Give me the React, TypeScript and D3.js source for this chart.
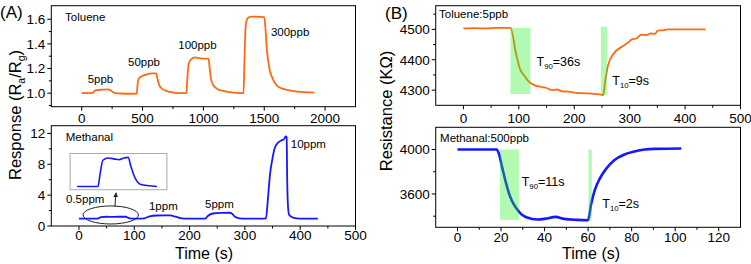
import React from 'react';
import * as d3 from 'd3';

// ---------- DATA ----------
// (A) top: Toluene response vs time (s)
const tolueneTime = [0, 60, 92, 105, 125, 170, 215, 232, 250, 273, 320, 400, 452, 460, 470, 490, 530, 575, 612, 622, 635, 655, 690, 750, 810, 860, 868, 880, 900, 930, 965, 1005, 1042, 1052, 1066, 1085, 1120, 1180, 1250, 1330, 1337, 1348, 1365, 1395, 1450, 1500, 1508, 1522, 1542, 1568, 1605, 1655, 1720, 1800, 1913];
const tolueneResp = [1.0, 1.0, 1.003, 1.02, 1.025, 1.028, 1.03, 1.027, 1.012, 1.0, 0.997, 0.995, 0.997, 1.08, 1.12, 1.135, 1.15, 1.16, 1.16, 1.12, 1.07, 1.04, 1.02, 1.005, 1.0, 1.0, 1.12, 1.24, 1.275, 1.29, 1.285, 1.28, 1.28, 1.2, 1.1, 1.06, 1.03, 1.015, 1.005, 1.0, 1.25, 1.55, 1.61, 1.622, 1.62, 1.618, 1.55, 1.35, 1.2, 1.12, 1.06, 1.035, 1.02, 1.01, 1.005];

// (A) bottom: Methanal response vs time (s)
const methanalTime = [0, 30, 35, 40, 50, 60, 70, 85, 88, 92, 100, 110, 118, 128, 140, 155, 165, 175, 185, 200, 228, 233, 242, 258, 272, 277, 282, 290, 300, 336, 338, 342, 345, 350, 354, 360, 366, 370, 372, 374, 375.5, 376.5, 378, 380, 387, 400, 432];
const methanalResp = [0.95, 0.95, 1.0, 1.15, 1.2, 1.17, 1.2, 1.2, 1.1, 1.0, 0.95, 0.95, 1.0, 1.25, 1.36, 1.38, 1.37, 1.2, 1.0, 0.95, 0.95, 1.3, 1.62, 1.7, 1.72, 1.6, 1.2, 1.0, 0.95, 0.95, 1.0, 3.8, 6.4, 8.8, 10.1, 10.8, 11.1, 11.2, 11.4, 11.6, 11.5, 6, 2.5, 1.45, 1.08, 0.95, 0.95];

// inset: 0.5 ppm close-up
const insetTime = [0, 35, 38, 43, 52, 63, 70, 78, 85, 90, 97, 105, 133];
const insetResp = [0.95, 0.95, 1.05, 1.18, 1.2, 1.19, 1.185, 1.2, 1.205, 1.12, 1.02, 0.97, 0.95];

// (B) top: Toluene 5 ppb resistance (kOhm)
const tolResTime = [0, 20, 40, 60, 85, 95, 103, 109, 118, 130, 142, 150, 160, 168, 178, 190, 200, 214, 225, 238, 248, 252, 256, 261, 271, 286, 296, 304, 312, 321, 330, 339, 345, 351, 360, 369, 400, 437];
const tolResVal = [4503, 4504, 4503, 4505, 4505, 4420, 4365, 4350, 4328, 4315, 4310, 4307, 4300, 4302, 4296, 4295, 4292, 4290, 4289, 4287, 4285, 4283, 4330, 4382, 4420, 4443, 4455, 4467, 4470, 4483, 4481, 4487, 4485, 4496, 4497, 4500, 4500, 4500];

// (B) bottom: Methanal 500 ppb resistance (kOhm)
const metResTime = [0, 10, 18, 19, 20.5, 22, 23.5, 25, 27.3, 29.6, 32, 36.6, 41, 45, 49, 55, 60, 61.4, 63, 65.3, 68.3, 72, 76.7, 81.3, 86, 90.6, 102.8];
const metResVal = [4000, 4000, 4000, 3964, 3842, 3721, 3615, 3539, 3464, 3412, 3388, 3370, 3379, 3394, 3376, 3367, 3364, 3509, 3630, 3736, 3827, 3903, 3955, 3982, 4000, 4006, 4009];

// response-time windows
const tolWinStart = [85, 248];
const tolWinEnd = [121, 259];
const tolWinTop = [4505, 4509];
const tolWinBottom = [4287, 4283];
const metWinStart = [19.5, 60.2];
const metWinEnd = [28.2, 61.7];
const metWinTop = [4000, 4000];
const metWinBottom = [3367, 3364];

// ticks
const tlXTicks = [0, 500, 1000, 1500, 2000];
const tlXMinor = [250, 750, 1250, 1750];
const tlYTicks = [1.0, 1.2, 1.4, 1.6];
const tlYMinor = [0.9, 1.1, 1.3, 1.5];
const blXTicks = [0, 100, 200, 300, 400, 500];
const blXMinor = [50, 150, 250, 350, 450];
const blYTicks = [0, 4, 8, 12];
const blYMinor = [2, 6, 10];
const trXTicks = [0, 100, 200, 300, 400, 500];
const trXMinor = [50, 150, 250, 350, 450];
const trYTicks = [4300, 4400, 4500];
const trYMinor = [4350, 4450, 4550];
const brXTicks = [0, 20, 40, 60, 80, 100, 120];
const brXMinor = [10, 30, 50, 70, 90, 110];
const brYTicks = [3600, 4000];
const brYMinor = [3400, 3800];

const FONT = "'Liberation Sans', Arial, Helvetica, sans-serif";
const ORANGE = '#ff6a10';
const BLUE = '#1616ff';

type Box = { l: number; r: number; t: number; b: number };

function Frame({ box, xs, ys, xTicks, xMinor, yTicks, yMinor, fmt, labOff }: any) {
  return (
    <g fontFamily={FONT}>
      <rect x={box.l} y={box.t} width={box.r - box.l} height={box.b - box.t} fill="none" stroke="#000" strokeWidth={1} />
      {xTicks.map((v: number) => (
        <g key={'xt' + v}>
          <line x1={xs(v)} x2={xs(v)} y1={box.b} y2={box.b + 4} stroke="#000" />
          <text x={xs(v)} y={box.b + labOff} fontSize={13.5} textAnchor="middle">{v}</text>
        </g>
      ))}
      {xMinor.map((v: number) => (
        <line key={'xm' + v} x1={xs(v)} x2={xs(v)} y1={box.b} y2={box.b + 2.5} stroke="#000" />
      ))}
      {yTicks.map((v: number) => (
        <g key={'yt' + v}>
          <line x1={box.l - 4} x2={box.l} y1={ys(v)} y2={ys(v)} stroke="#000" />
          <text x={box.l - 6} y={ys(v) + 4.8} fontSize={13.5} textAnchor="end">{fmt(v)}</text>
        </g>
      ))}
      {yMinor.map((v: number) => (
        <line key={'ym' + v} x1={box.l - 2.5} x2={box.l} y1={ys(v)} y2={ys(v)} stroke="#000" />
      ))}
    </g>
  );
}

function lineOf(xs: any, ys: any, t: number[], v: number[]) {
  const pts = t.map((d, i) => [d, v[i]] as [number, number]);
  return d3.line<[number, number]>().x(d => xs(d[0])).y(d => ys(d[1])).curve(d3.curveMonotoneX)(pts) || '';
}

function Tsub({ x, y, sub, rest, size }: any) {
  return (
    <text x={x} y={y} fontSize={size} fontFamily={FONT}>
      T<tspan fontSize={size * 0.62} dy={3}>{sub}</tspan><tspan dy={-3}>{rest}</tspan>
    </text>
  );
}

export default function App() {
  const tl: Box = { l: 51.3, r: 355.5, t: 5.7, b: 106.7 };
  const bl: Box = { l: 51.3, r: 355.5, t: 125.7, b: 226 };
  const tr: Box = { l: 435.7, r: 740.5, t: 5.7, b: 105.3 };
  const br: Box = { l: 435.7, r: 740.5, t: 127.3, b: 227.3 };

  const tlx = d3.scaleLinear().domain([-250, 2250]).range([tl.l, tl.r]);
  const tly = d3.scaleLinear().domain([0.89, 1.71]).range([tl.b, tl.t]);
  const blx = d3.scaleLinear().domain([-50, 500]).range([bl.l, bl.r]);
  const bly = d3.scaleLinear().domain([0, 13]).range([bl.b, bl.t]);
  const trx = d3.scaleLinear().domain([-50, 500]).range([tr.l, tr.r]);
  const tryy = d3.scaleLinear().domain([4250, 4578]).range([tr.b, tr.t]);
  const brx = d3.scaleLinear().domain([-10, 130]).range([br.l, br.r]);
  const bry = d3.scaleLinear().domain([3300, 4200]).range([br.b, br.t]);

  // inset scales (inset box in bottom-left panel)
  const inBox = { l: blx(-16), r: blx(159), t: bly(9.4), b: bly(4.7) };
  const inx = d3.scaleLinear().domain([0, 133]).range([inBox.l + 7, inBox.r - 10]);
  const iny = d3.scaleLinear().domain([0.95, 1.2]).range([inBox.b - 3.3, inBox.t + 4.5]);

  const fmt1 = (v: number) => v.toFixed(1);
  const fmt0 = (v: number) => String(v);

  return (
    <svg width={751} height={264} style={{ position: 'absolute', left: 0, top: 0, background: '#fff' }}>
      <rect x={0} y={0} width={751} height={264} fill="#fff" />
      {/* panel labels */}
      <text x={0} y={18} fontSize={17} fontFamily={FONT}>(A)</text>
      <text x={385} y={19} fontSize={17} fontFamily={FONT}>(B)</text>

      {/* axis titles */}
      <text transform="translate(21,115) rotate(-90)" fontSize={16.5} fontFamily={FONT} textAnchor="middle">
        Response (R<tspan fontSize={10.5} dy={4}>a</tspan><tspan dy={-4}>/R</tspan><tspan fontSize={10.5} dy={4}>g</tspan><tspan dy={-4}>)</tspan>
      </text>
      <text transform="translate(392,111) rotate(-90)" fontSize={16.5} fontFamily={FONT} textAnchor="middle">Resistance (KΩ)</text>
      <text x={204} y={259} fontSize={16} fontFamily={FONT} textAnchor="middle">Time (s)</text>
      <text x={591} y={259} fontSize={16} fontFamily={FONT} textAnchor="middle">Time (s)</text>

      {/* top-left */}
      <Frame box={tl} xs={tlx} ys={tly} xTicks={tlXTicks} xMinor={tlXMinor} yTicks={tlYTicks} yMinor={tlYMinor} fmt={fmt1} labOff={16.5} />
      <path d={lineOf(tlx, tly, tolueneTime, tolueneResp)} fill="none" stroke={ORANGE} strokeWidth={1.8} />
      <g fontFamily={FONT} fontSize={11.5}>
        <text x={tlx(-137)} y={tly(1.586)}>Toluene</text>
        <text x={tlx(154)} y={tly(1.082)} textAnchor="middle">5ppb</text>
        <text x={tlx(512)} y={tly(1.22)} textAnchor="middle">50ppb</text>
        <text x={tlx(951)} y={tly(1.358)} textAnchor="middle">100ppb</text>
        <text x={tlx(1555)} y={tly(1.464)}>300ppb</text>
      </g>

      {/* bottom-left */}
      <Frame box={bl} xs={blx} ys={bly} xTicks={blXTicks} xMinor={blXMinor} yTicks={blYTicks} yMinor={blYMinor} fmt={fmt0} labOff={14} />
      <path d={lineOf(blx, bly, methanalTime, methanalResp)} fill="none" stroke={BLUE} strokeWidth={1.8} />
      <rect x={inBox.l} y={inBox.t} width={inBox.r - inBox.l} height={inBox.b - inBox.t} fill="#fff" stroke="#aaa" strokeWidth={1} />
      <path d={lineOf(inx, iny, insetTime, insetResp)} fill="none" stroke={BLUE} strokeWidth={1.6} />
      <ellipse cx={blx(57.5)} cy={bly(1.43)} rx={blx(50) - blx(0)} ry={bly(0) - bly(1.17)} fill="none" stroke="#222" strokeWidth={1} />
      <defs>
        <marker id="arr" viewBox="0 0 10 10" refX={9} refY={5} markerWidth={5} markerHeight={5} orient="auto">
          <path d="M0,0 L10,5 L0,10 z" fill="#222" />
        </marker>
      </defs>
      <line x1={blx(65)} y1={bly(2.5)} x2={blx(67)} y2={bly(4.3)} stroke="#222" strokeWidth={1} markerEnd="url(#arr)" />
      <g fontFamily={FONT} fontSize={11.5}>
        <text x={blx(-24)} y={bly(11.0)}>Methanal</text>
        <text x={blx(-23.4)} y={bly(2.98)}>0.5ppm</text>
        <text x={blx(126.6)} y={bly(2.07)}>1ppm</text>
        <text x={blx(228)} y={bly(2.33)}>5ppm</text>
        <text x={blx(383)} y={bly(10.1)}>10ppm</text>
      </g>

      {/* top-right */}
      <Frame box={tr} xs={trx} ys={tryy} xTicks={trXTicks} xMinor={trXMinor} yTicks={trYTicks} yMinor={trYMinor} fmt={fmt0} labOff={17.5} />
      <path d={lineOf(trx, tryy, tolResTime, tolResVal)} fill="none" stroke={ORANGE} strokeWidth={1.8} />
      {tolWinStart.map((s, i) => (
        <rect key={'tw' + i} x={trx(s)} y={tryy(tolWinTop[i])} width={trx(tolWinEnd[i]) - trx(s)} height={tryy(tolWinBottom[i]) - tryy(tolWinTop[i])} fill="#22ee22" opacity={0.35} />
      ))}
      <g fontFamily={FONT} fontSize={11.5}>
        <text x={trx(-44)} y={tryy(4537)}>Toluene:5ppb</text>
      </g>
      <Tsub x={trx(132)} y={tryy(4379)} sub="90" rest="=36s" size={12.5} />
      <Tsub x={trx(268.6)} y={tryy(4317)} sub="10" rest="=9s" size={12.5} />

      {/* bottom-right */}
      <Frame box={br} xs={brx} ys={bry} xTicks={brXTicks} xMinor={brXMinor} yTicks={brYTicks} yMinor={brYMinor} fmt={fmt0} labOff={14.8} />
      <path d={lineOf(brx, bry, metResTime, metResVal)} fill="none" stroke={BLUE} strokeWidth={2.6} />
      {metWinStart.map((s, i) => (
        <rect key={'mw' + i} x={brx(s)} y={bry(metWinTop[i])} width={brx(metWinEnd[i]) - brx(s)} height={bry(metWinBottom[i]) - bry(metWinTop[i])} fill="#22ee22" opacity={0.35} />
      ))}
      <g fontFamily={FONT} fontSize={11.5}>
        <text x={brx(-8)} y={bry(4068)}>Methanal:500ppb</text>
      </g>
      <Tsub x={brx(29.5)} y={bry(3672)} sub="90" rest="=11s" size={12.5} />
      <Tsub x={brx(66.5)} y={bry(3478)} sub="10" rest="=2s" size={12.5} />
    </svg>
  );
}
